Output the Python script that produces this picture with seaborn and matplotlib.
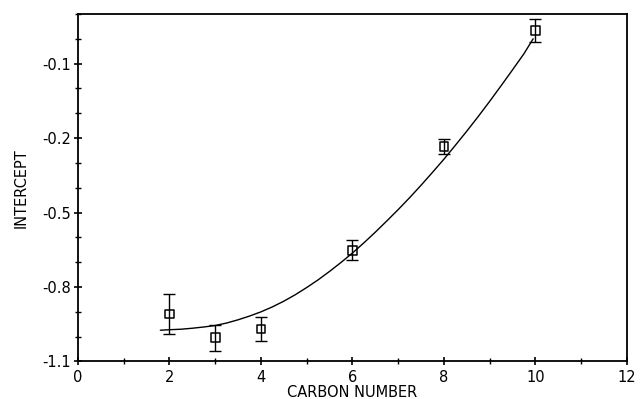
import matplotlib
matplotlib.use("Agg")
import matplotlib.pyplot as plt
from matplotlib.ticker import FixedLocator, FixedFormatter, MultipleLocator
import seaborn as sns
import pandas as pd

# Measured intercepts with their uncertainties
carbon_number = [2, 3, 4, 6, 8, 10]
intercept = [-0.909, -1.004, -0.969, -0.652, -0.234, 0.234]
intercept_err = [0.080, 0.052, 0.047, 0.041, 0.031, 0.047]

# Smooth fitted trend through the measurements
fit_x = [1.8, 2.0, 2.25, 2.5, 2.75, 3.0, 3.25, 3.5, 3.75, 4.0, 4.25, 4.5,
         4.75, 5.0, 5.25, 5.5, 5.75, 6.0, 6.25, 6.5, 6.75, 7.0, 7.25, 7.5,
         7.75, 8.0, 8.25, 8.5, 8.75, 9.0, 9.25, 9.5, 9.75, 9.95]
fit_y = [-0.974, -0.972, -0.970, -0.966, -0.961, -0.955, -0.945, -0.932,
         -0.917, -0.900, -0.880, -0.857, -0.831, -0.802, -0.771, -0.737,
         -0.701, -0.663, -0.622, -0.579, -0.534, -0.488, -0.440, -0.390,
         -0.338, -0.285, -0.229, -0.172, -0.113, -0.052, 0.011, 0.075,
         0.140, 0.200]

# Axis tick positions and their printed labels
ytick_pos = [-1.1, -0.8, -0.5, -0.2, 0.1]
ytick_labels = ["-1.1", "-0.8", "-0.5", "-0.2", "-0.1"]
xtick_pos = [0, 2, 4, 6, 8, 10, 12]
xtick_labels = ["0", "2", "4", "6", "8", "10", "12"]

sns.set_theme(style="ticks")
plt.rcParams["font.family"] = ["DejaVu Sans"]

meas = pd.DataFrame({"carbon": carbon_number, "intercept": intercept})
fit = pd.DataFrame({"carbon": fit_x, "intercept": fit_y})

fig = plt.figure(figsize=(6.41, 3.99), dpi=100)
ax = fig.add_axes([0.1217, 0.094, 0.8563, 0.871])

sns.lineplot(data=fit, x="carbon", y="intercept", ax=ax, color="black",
             linewidth=1.0, sort=False, estimator=None)
ax.errorbar(carbon_number, intercept, yerr=intercept_err, fmt="none",
            ecolor="black", elinewidth=1.0, capsize=4, capthick=1.0)
sns.scatterplot(data=meas, x="carbon", y="intercept", ax=ax, marker="s",
                s=40, facecolor="none", edgecolor="black", linewidth=1.1)

ax.set_xlim(0, 12)
ax.set_ylim(-1.1, 0.3)

ax.xaxis.set_major_locator(FixedLocator(xtick_pos))
ax.xaxis.set_major_formatter(FixedFormatter(xtick_labels))
ax.xaxis.set_minor_locator(MultipleLocator(1))
ax.yaxis.set_major_locator(FixedLocator(ytick_pos))
ax.yaxis.set_major_formatter(FixedFormatter(ytick_labels))
ax.yaxis.set_minor_locator(MultipleLocator(0.1))

ax.tick_params(axis="both", which="major", direction="inout", length=6,
               width=1.2, color="black", labelsize=10.5, labelcolor="black",
               pad=2)
ax.tick_params(axis="both", which="minor", direction="inout", length=4,
               width=1.0, color="black")
ax.tick_params(axis="x", which="major", pad=3)

for side in ["left", "bottom", "top", "right"]:
    ax.spines[side].set_visible(True)
    ax.spines[side].set_color("black")
    ax.spines[side].set_linewidth(1.3)

ax.set_xlabel("CARBON NUMBER", fontsize=10.5, color="black", labelpad=0)
ax.set_ylabel("INTERCEPT", fontsize=10.5, color="black", labelpad=10)

fig.savefig("out.png", dpi=100, facecolor="white")
